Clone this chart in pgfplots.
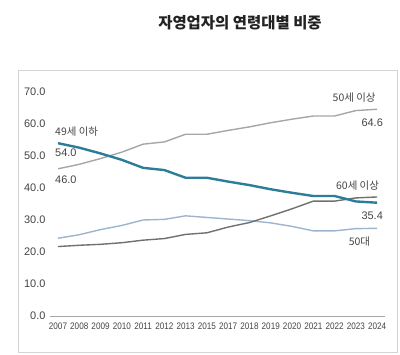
\documentclass[border=0pt]{standalone}
\usepackage{pgfplots}
\usepackage{pgfplotstable}
\usepackage{graphicx}
\pgfplotsset{compat=1.18}
\usepackage{fontspec}
\setmainfont{Liberation Sans}
\newfontfamily\kr{Noto Sans CJK KR}
\newcommand\nx[1]{\scalebox{0.86}[1]{#1}}
\definecolor{tealc}{HTML}{2C7D98}
\definecolor{grayA}{HTML}{A6A6A6}
\definecolor{grayD}{HTML}{707070}
\definecolor{blueL}{HTML}{9DB5CC}
\definecolor{txt}{HTML}{444444}
\definecolor{framec}{HTML}{D4D4D4}
\definecolor{titlec}{HTML}{222222}
\pgfplotstableread{
i year over50 under49 s50 s60
0 2007 46.0 54.0 24.3 21.7
1 2008 47.4 52.6 25.4 22.1
2 2009 49.2 50.8 27.0 22.4
3 2010 51.2 48.8 28.3 22.9
4 2011 53.7 46.3 30.0 23.7
5 2012 54.4 45.6 30.2 24.2
6 2013 56.8 43.2 31.3 25.5
7 2015 56.8 43.2 30.8 26.0
8 2017 58.0 42.0 30.3 27.8
9 2018 59.1 40.9 29.8 29.2
10 2019 60.4 39.6 29.1 31.3
11 2020 61.5 38.5 28.0 33.5
12 2021 62.5 37.5 26.6 35.9
13 2022 62.5 37.5 26.6 35.9
14 2023 64.2 35.8 27.3 36.9
15 2024 64.6 35.4 27.4 37.2
}\datatab
\begin{document}
\begin{tikzpicture}
\useasboundingbox (0,0) rectangle (400bp,355bp);
\draw[framec, line width=0.8bp] (18bp,3bp) rectangle (397bp,285bp);
\node[font=\kr\bfseries\fontsize{15.5}{18}\selectfont, text=titlec] at (240bp,332bp) {자영업자의 연령대별 비중};
\begin{axis}[
  at={(50bp,39bp)}, anchor=south west,
  scale only axis, width=335bp, height=224bp,
  xmin=-0.376, xmax=15.37, ymin=0, ymax=70,
  axis x line*=bottom, axis y line*=left,
  y axis line style={draw=none},
  x axis line style={grayA, line width=0.9bp},
  major tick length=0pt,
  xtick={0,...,15},
  xticklabels={\nx{2007},\nx{2008},\nx{2009},\nx{2010},\nx{2011},\nx{2012},\nx{2013},\nx{2015},\nx{2017},\nx{2018},\nx{2019},\nx{2020},\nx{2021},\nx{2022},\nx{2023},\nx{2024}},
  ytick={0,10,...,70},
  /pgf/number format/assume math mode=true,
  ticklabel style={text=txt},
  yticklabel style={font=\fontsize{11}{12}\selectfont, xshift=-1bp,
    /pgf/number format/fixed, /pgf/number format/fixed zerofill, /pgf/number format/precision=1},
  xticklabel style={font=\fontsize{9.5}{10}\selectfont, yshift=-3bp},
  clip=false,
]
\addplot[grayA, line width=1.4bp] table[x=i, y=over50] {\datatab};
\addplot[blueL, line width=1.4bp] table[x=i, y=s50] {\datatab};
\addplot[grayD, line width=1.4bp] table[x=i, y=s60] {\datatab};
\addplot[tealc, line width=2.4bp] table[x=i, y=under49] {\datatab};
\node[anchor=west, text=txt, font=\kr\fontsize{10.5}{12}\selectfont, inner sep=0pt] at (axis cs:-0.14,57.5) {49세 이하};
\node[anchor=west, text=txt, font=\fontsize{11}{12}\selectfont, inner sep=0pt] at (axis cs:-0.14,51.0) {54.0};
\node[anchor=west, text=txt, font=\fontsize{11}{12}\selectfont, inner sep=0pt] at (axis cs:-0.14,42.5) {46.0};
\node[text=txt, font=\kr\fontsize{10.5}{12}\selectfont, inner sep=0pt] at (axis cs:13.92,68.4) {50세 이상};
\node[anchor=east, text=txt, font=\fontsize{11}{12}\selectfont, inner sep=0pt] at (axis cs:15.28,60.3) {64.6};
\node[text=txt, font=\kr\fontsize{10.5}{12}\selectfont, inner sep=0pt] at (axis cs:14.08,40.9) {60세 이상};
\node[anchor=east, text=txt, font=\fontsize{11}{12}\selectfont, inner sep=0pt] at (axis cs:15.28,31.25) {35.4};
\node[text=txt, font=\kr\fontsize{10.5}{12}\selectfont, inner sep=0pt] at (axis cs:14.17,23.1) {50대};
\end{axis}
\end{tikzpicture}
\end{document}
